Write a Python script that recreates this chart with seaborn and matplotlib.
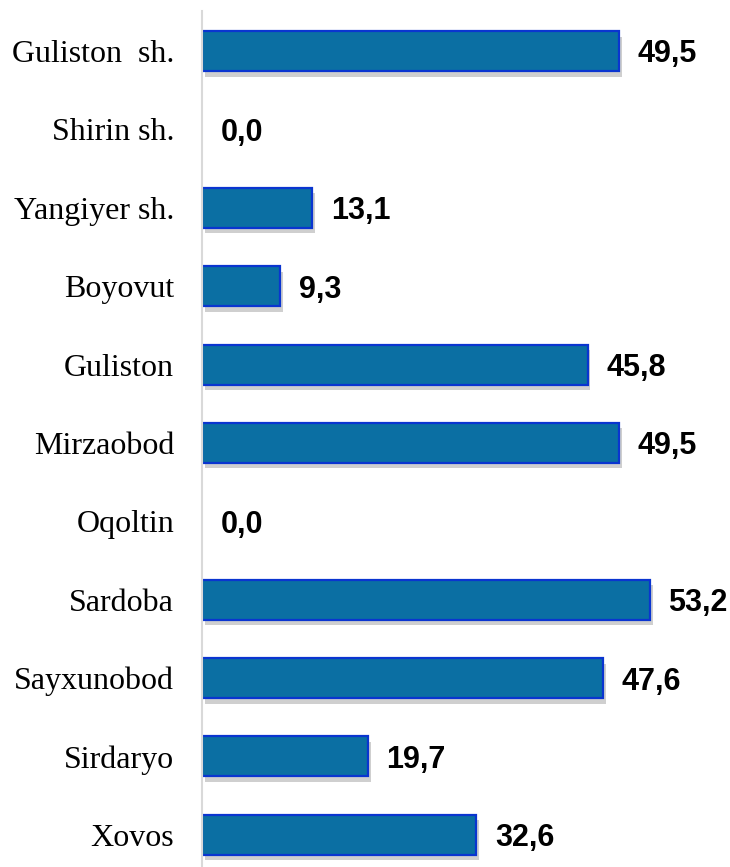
import pandas as pd
import matplotlib.pyplot as plt
import matplotlib.patheffects as pe
import seaborn as sns

# Ma'lumotlar
districts = ["Guliston  sh.", "Shirin sh.", "Yangiyer sh.", "Boyovut", "Guliston",
             "Mirzaobod", "Oqoltin", "Sardoba", "Sayxunobod", "Sirdaryo", "Xovos"]
values = [49.5, 0.0, 13.1, 9.3, 45.8, 49.5, 0.0, 53.2, 47.6, 19.7, 32.6]

df = pd.DataFrame({"Tuman": districts, "Qiymat": values})

sns.set_theme(style="white")

fig = plt.figure(figsize=(7.3, 8.67), dpi=100)
ax = fig.add_axes([202 / 730, 0, 1 - 202 / 730, (867 - 11) / 867])

sns.barplot(data=df, x="Qiymat", y="Tuman", color="#0B6FA3", width=0.51,
            edgecolor="#0A35D0", linewidth=1.6, saturation=1, ax=ax)

# soya effekti, nol ustunlarda chiziq yo'q
for bar, v in zip(ax.patches, values):
    if v == 0:
        bar.set_linewidth(0)
        continue
    bar.set_path_effects([pe.SimplePatchShadow(offset=(2, -4), shadow_rgbFace="#777777",
                                               alpha=0.35), pe.Normal()])

# qiymat yorliqlari
for i, v in enumerate(values):
    ax.text(v + 2.2, i, f"{v:.1f}".replace(".", ","), va="center_baseline", ha="left",
            fontsize=22, fontweight="bold", family="Liberation Sans", color="black")

ax.set_xlim(0, (730 - 202) / 8.42)
ax.set_ylim(10.41, -0.51)
ax.set_xlabel("")
ax.set_ylabel("")
ax.set_xticks([])
ax.tick_params(axis="y", length=0, pad=20)
for lab in ax.get_yticklabels():
    lab.set_fontfamily("Liberation Serif")
    lab.set_fontsize(23)
    lab.set_color("black")

for s in ["top", "right", "bottom"]:
    ax.spines[s].set_visible(False)
ax.spines["left"].set_color("#d9d9d9")
ax.spines["left"].set_linewidth(1.5)

fig.savefig("out.png", dpi=100)
